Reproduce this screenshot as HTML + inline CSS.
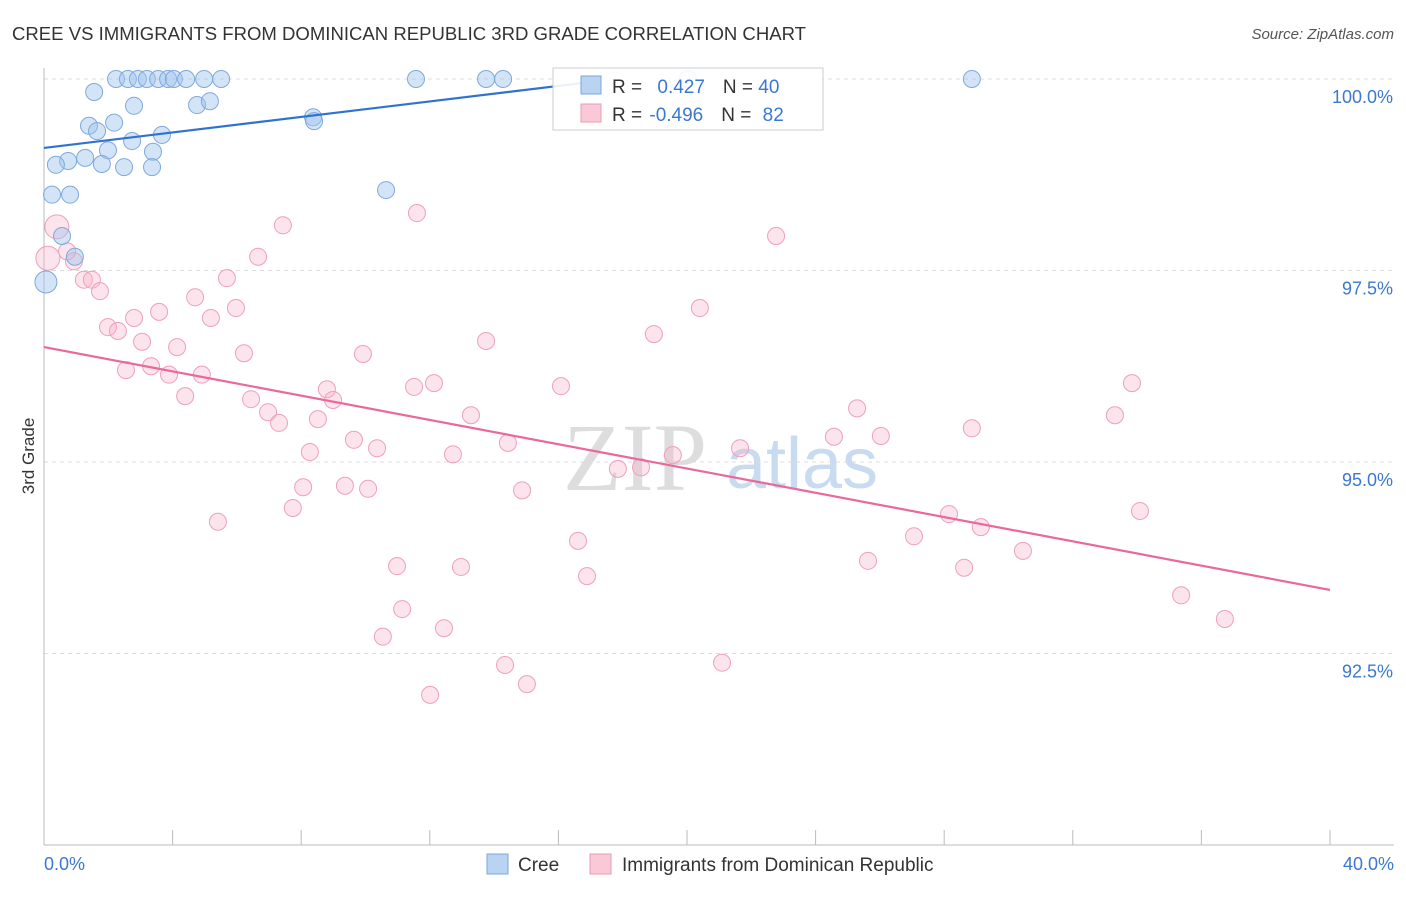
<!DOCTYPE html>
<html><head><meta charset="utf-8"><style>
html,body{margin:0;padding:0;background:#fff;}
body{width:1406px;height:892px;overflow:hidden;font-family:"Liberation Sans",sans-serif;}
</style></head><body>
<svg id="chart" width="1406" height="892" xmlns="http://www.w3.org/2000/svg" font-family="Liberation Sans, sans-serif">
<text x="12" y="40" font-size="18" fill="#333" textLength="794" lengthAdjust="spacingAndGlyphs">CREE VS IMMIGRANTS FROM DOMINICAN REPUBLIC 3RD GRADE CORRELATION CHART</text>
<text x="1394" y="39" font-size="15" fill="#555" text-anchor="end" font-style="italic">Source: ZipAtlas.com</text>
<text x="34" y="456" font-size="17" fill="#333" text-anchor="middle" transform="rotate(-90 34 456)">3rd Grade</text>
<g><text x="635" y="490" font-size="96" fill="#ddd" font-family="Liberation Serif, serif" text-anchor="middle">ZIP</text><text x="802" y="488" font-size="72" fill="#c9dbf0" text-anchor="middle">atlas</text></g>
<g id="grid"></g><g id="axes"></g><g id="pts"></g><g id="trend"></g>
<g>
<rect x="553" y="68" width="270" height="62" fill="rgba(255,255,255,0.9)" stroke="#ccc"/>
<rect x="581" y="76" width="20" height="18" fill="#b9d3f2" stroke="#7aa6dc"/>
<rect x="581" y="104" width="20" height="18" fill="#f9c9d8" stroke="#ec9ab5"/>
<text x="612" y="93" font-size="19" fill="#333">R = <tspan fill="#3b78d1" dx="10">0.427</tspan><tspan dx="18">N = </tspan><tspan fill="#3b78d1">40</tspan></text>
<text x="612" y="121" font-size="19" fill="#333">R = <tspan fill="#3b78d1" dx="2">-0.496</tspan><tspan dx="18">N = </tspan><tspan fill="#3b78d1" dx="6">82</tspan></text>
</g>
<g>
<rect x="487" y="854" width="21" height="20" fill="#b9d3f2" stroke="#7aa6dc"/>
<text x="518" y="871" font-size="19" fill="#333">Cree</text>
<rect x="590" y="854" width="21" height="20" fill="#f9c9d8" stroke="#ec9ab5"/>
<text x="622" y="871" font-size="19" fill="#333">Immigrants from Dominican Republic</text>
</g>
</svg>
<script>
const xTicks=[0,4,8,12,16,20,24,28,32,36,40];
const yTicks=[100,97.5,95,92.5];
const yTickLabels=["100.0%","97.5%","95.0%","92.5%"];
const creeX=[2.24,2.61,2.92,3.20,3.55,3.86,4.04,4.42,4.98,5.51,11.57,13.75,14.28,20.03,28.86,1.56,2.80,4.76,5.16,8.37,8.40,1.40,2.18,1.65,3.67,2.74,1.99,3.39,0.75,0.37,1.28,1.80,2.49,3.36,0.25,0.81,10.64,0.56,0.96,0.06];
const creeY=[100,100,100,100,100,100,100,100,100,100,100,100,100,100,100,99.83,99.65,99.66,99.71,99.50,99.45,99.39,99.43,99.32,99.27,99.19,99.07,99.05,98.93,98.88,98.97,98.89,98.85,98.85,98.49,98.49,98.55,97.95,97.68,97.35];
const domX=[0.40,0.12,0.72,0.93,1.24,1.49,1.74,7.43,11.60,22.77,6.66,5.69,4.70,5.97,3.58,5.19,2.80,1.99,2.30,20.40,18.97,13.75,3.05,4.14,6.22,9.92,2.55,3.33,3.89,4.91,12.13,11.51,16.08,33.84,8.80,8.99,4.39,6.44,6.97,7.31,8.52,13.28,33.31,25.29,28.86,9.64,10.36,8.27,14.43,12.72,24.57,26.03,21.65,19.56,17.85,18.57,8.06,9.36,10.08,14.87,5.41,7.74,28.15,34.09,29.14,16.61,27.06,30.45,25.63,10.98,12.97,28.62,16.89,11.14,35.37,36.73,12.44,10.54,14.34,21.09,15.02,12.01];
const domY=[98.07,97.66,97.75,97.62,97.38,97.38,97.23,98.09,98.25,97.95,97.68,97.40,97.15,97.01,96.96,96.88,96.88,96.76,96.71,97.01,96.67,96.58,96.57,96.50,96.42,96.41,96.20,96.25,96.14,96.14,96.03,95.98,95.99,96.03,95.95,95.81,95.86,95.82,95.65,95.51,95.56,95.61,95.61,95.70,95.44,95.29,95.18,95.13,95.25,95.10,95.33,95.34,95.18,95.09,94.91,94.93,94.67,94.69,94.65,94.63,94.22,94.40,94.32,94.36,94.15,93.97,94.03,93.84,93.71,93.64,93.63,93.62,93.51,93.08,93.26,92.95,92.83,92.72,92.35,92.38,92.10,91.96];
const creeTrend=[[0,99.10],[16.8,99.95]];
const domTrend=[[0,96.50],[40,93.33]];
const NS="http://www.w3.org/2000/svg";
const sx=v=>44+v*32.15, sy=v=>79+(100-v)*76.6;
function mk(tag,attrs,parent){const e=document.createElementNS(NS,tag);for(const k in attrs)e.setAttribute(k,attrs[k]);document.getElementById(parent).appendChild(e);return e;}
yTicks.forEach((t,i)=>{
 const l=mk('line',{x1:44,x2:1394,y1:sy(t),y2:sy(t),stroke:'#ddd','stroke-dasharray':'4,4'},'grid');
 
 
 const tx=mk('text',{x:1393,y:sy(t)+24,'font-size':18,fill:'#3b78d1','text-anchor':'end'},'grid');
 tx.textContent=yTickLabels[i];
 
 
});
const ax=mk('line',{x1:44,x2:44,y1:68,y2:845,stroke:'#bbb'},'axes');


const bx=mk('line',{x1:44,x2:1394,y1:845,y2:845,stroke:'#bbb'},'axes');


xTicks.forEach(t=>{
 const l=mk('line',{x1:sx(t),x2:sx(t),y1:830,y2:845,stroke:'#bbb'},'axes');
 
 
});
const xl0=mk('text',{x:44,y:870,'font-size':18,fill:'#3b78d1'},'axes');xl0.textContent=xTicks[0].toFixed(1)+'%';


const xl1=mk('text',{x:1394,y:870,'font-size':18,fill:'#3b78d1','text-anchor':'end'},'axes');xl1.textContent=xTicks[xTicks.length-1].toFixed(1)+'%';


domX.forEach((x,i)=>{
 const r=(i<2)?12:8.5;
 const c=mk('circle',{cx:sx(x),cy:sy(domY[i]),r:r,fill:'rgba(246,178,200,0.35)',stroke:'#eea0ba','stroke-width':1},'pts');
 
 
});
creeX.forEach((x,i)=>{
 const r=(i===creeX.length-1)?11:8.5;
 const c=mk('circle',{cx:sx(x),cy:sy(creeY[i]),r:r,fill:'rgba(160,196,238,0.45)',stroke:'#7ea9dd','stroke-width':1},'pts');
 
 
});
const t1=mk('line',{x1:sx(creeTrend[0][0]),y1:sy(creeTrend[0][1]),x2:sx(creeTrend[1][0]),y2:sy(creeTrend[1][1]),stroke:'#2f72d0','stroke-width':2.2},'trend');


const t2=mk('line',{x1:sx(domTrend[0][0]),y1:sy(domTrend[0][1]),x2:sx(domTrend[1][0]),y2:sy(domTrend[1][1]),stroke:'#e8699a','stroke-width':2.2},'trend');


</script>
</body></html>
